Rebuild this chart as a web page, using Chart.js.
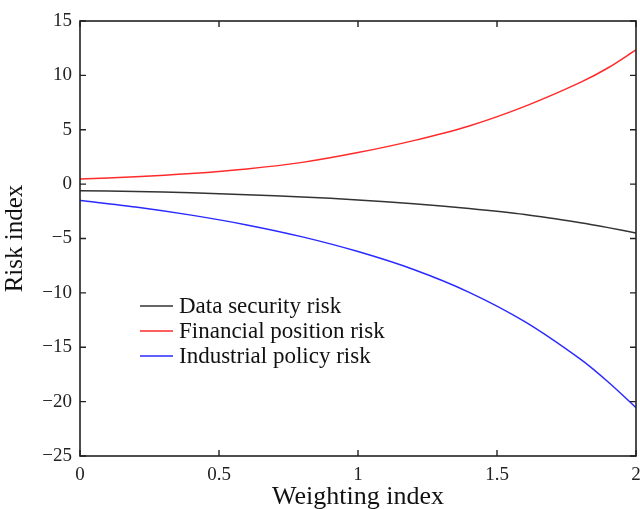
<!DOCTYPE html>
<html>
<head>
<meta charset="utf-8">
<script src="https://cdn.jsdelivr.net/npm/chart.js@4"></script>
<style>
html,body{margin:0;padding:0;background:#fff;}
#wrap{width:640px;height:509px;}
</style>
</head>
<body>
<div id="wrap"><canvas id="c" width="640" height="509"></canvas></div>
<script>
const weights = [0, 0.2, 0.4, 0.6, 0.8, 1.0, 1.2, 1.4, 1.6, 1.8, 1.9, 2.0];
const dataSecurity = [-0.6, -0.68, -0.8, -0.97, -1.18, -1.45, -1.8, -2.25, -2.8, -3.55, -4.0, -4.5];
const financialPosition = [0.48, 0.68, 0.98, 1.4, 2.0, 2.9, 4.0, 5.35, 7.15, 9.35, 10.7, 12.35];
const industrialPolicy = [-1.5, -2.1, -2.85, -3.75, -4.85, -6.2, -7.85, -9.95, -12.65, -16.1, -18.2, -20.55];
const seriesLabels = ['Data security risk', 'Financial position risk', 'Industrial policy risk'];
const seriesColors = ['#333333', '#ff2a2a', '#2a2aff'];
const xTitle = 'Weighting index';
const yTitle = 'Risk index';

const FONT = '"Liberation Serif", "Times New Roman", serif';

function pts(ys){ return weights.map((x,i)=>({x:x, y:ys[i]})); }

const boxTicks = {
  id:'boxTicks',
  afterDraw(chart){
    const {ctx, chartArea:a, scales} = chart;
    ctx.save();
    ctx.strokeStyle = '#222';
    ctx.lineWidth = 1.6;
    ctx.strokeRect(a.left, a.top, a.right-a.left, a.bottom-a.top);
    ctx.lineWidth = 1.4;
    const L = 6;
    scales.x.ticks.forEach(t=>{
      const px = scales.x.getPixelForValue(t.value);
      ctx.beginPath();
      ctx.moveTo(px, a.bottom); ctx.lineTo(px, a.bottom-L);
      ctx.moveTo(px, a.top); ctx.lineTo(px, a.top+L);
      ctx.stroke();
    });
    scales.y.ticks.forEach(t=>{
      const py = scales.y.getPixelForValue(t.value);
      ctx.beginPath();
      ctx.moveTo(a.left, py); ctx.lineTo(a.left+L, py);
      ctx.moveTo(a.right, py); ctx.lineTo(a.right-L, py);
      ctx.stroke();
    });
    ctx.restore();
  }
};

const insideLegend = {
  id:'insideLegend',
  afterDraw(chart){
    const ctx = chart.ctx;
    ctx.save();
    ctx.font = '23px ' + FONT;
    ctx.textBaseline = 'middle';
    ctx.fillStyle = '#111';
    chart.data.datasets.forEach((ds,i)=>{
      const y = 306 + i*25;
      ctx.strokeStyle = ds.borderColor;
      ctx.lineWidth = 1.5;
      ctx.beginPath(); ctx.moveTo(140, y); ctx.lineTo(173, y); ctx.stroke();
      ctx.fillText(ds.label, 179, y + 1);
    });
    ctx.restore();
  }
};

new Chart(document.getElementById('c'), {
  type:'line',
  data:{
    datasets:[
      {label:seriesLabels[0], data:pts(dataSecurity), borderColor:seriesColors[0]},
      {label:seriesLabels[1], data:pts(financialPosition), borderColor:seriesColors[1]},
      {label:seriesLabels[2], data:pts(industrialPolicy), borderColor:seriesColors[2]}
    ]
  },
  options:{
    responsive:false,
    animation:false,
    devicePixelRatio:1,
    layout:{padding:{top:21, right:4, left:0, bottom:0}},
    elements:{point:{radius:0}, line:{borderWidth:1.5, tension:0.3}},
    plugins:{legend:{display:false}, tooltip:{enabled:false}},
    scales:{
      x:{
        type:'linear', min:0, max:2,
        border:{display:false},
        grid:{display:false, drawTicks:false},
        ticks:{stepSize:0.5, padding:8, color:'#222', font:{family:FONT, size:19}, maxRotation:0,
          callback:v=>String(v)},
        title:{display:true, text:xTitle, color:'#111', font:{family:FONT, size:26}, padding:{top:0, bottom:-4}},
        afterFit(s){ s.height = 53; s.paddingRight = 0; s.paddingLeft = 0; }
      },
      y:{
        type:'linear', min:-25, max:15,
        border:{display:false},
        grid:{display:false, drawTicks:false},
        ticks:{stepSize:5, padding:8, color:'#222', font:{family:FONT, size:19},
          callback:v=>String(v).replace('-', '\u2212')},
        title:{display:true, text:yTitle, color:'#111', font:{family:FONT, size:25}, padding:{top:0,bottom:0}},
        afterFit(s){ s.width = 80; s.paddingTop = 0; s.paddingBottom = 0; }
      }
    }
  },
  plugins:[boxTicks, insideLegend]
});
</script>
</body>
</html>
